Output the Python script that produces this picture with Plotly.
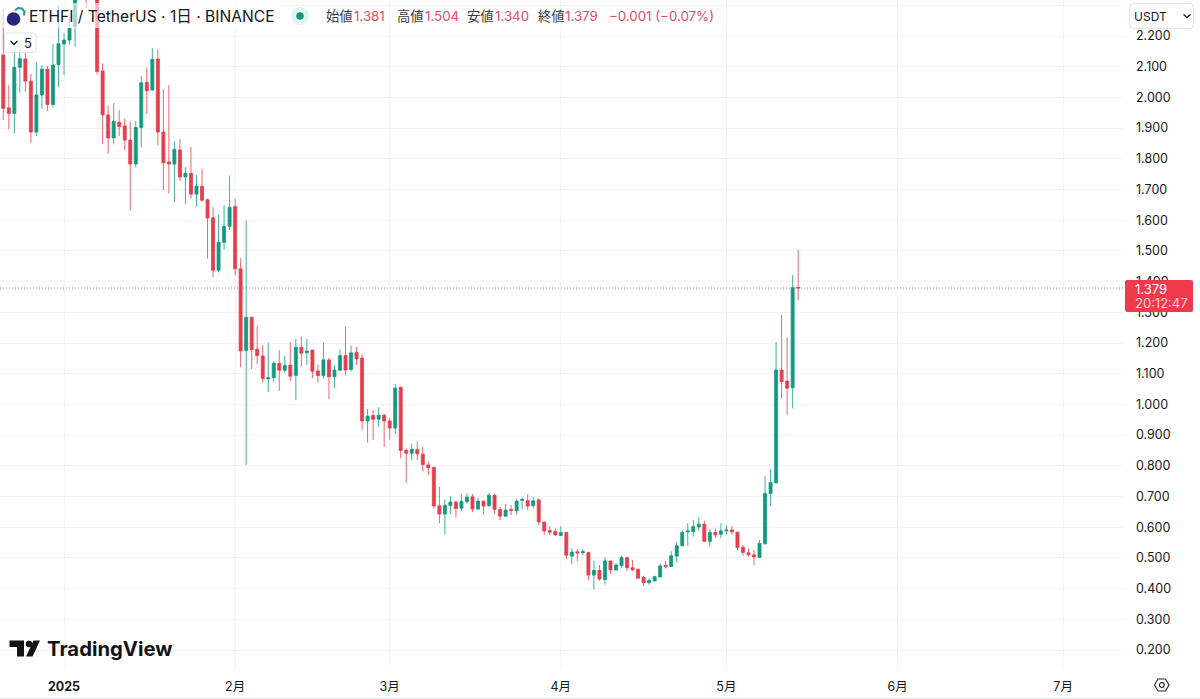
import pandas as pd
import plotly.graph_objects as go

FIRST_DATE = "2024-12-21"
opens = [2.138,1.966,1.948,2.098,2.125,2.053,1.887,2.008,2.092,1.977,
 2.107,2.174,2.187,2.230,2.350,2.500,2.400,2.450,2.086,1.943,
 1.868,1.919,1.907,1.861,1.783,1.902,2.049,2.024,2.125,1.887,
 1.790,1.783,1.829,1.741,1.753,1.685,1.711,1.667,1.608,1.437,
 1.528,1.580,1.645,1.442,1.176,1.284,1.180,1.158,1.083,1.087,
 1.133,1.111,1.128,1.094,1.186,1.168,1.177,1.109,1.094,1.145,
 1.090,1.111,1.159,1.114,1.170,1.151,0.946,0.964,0.952,0.965,
 0.946,0.923,1.056,0.851,0.841,0.853,0.838,0.803,0.795,0.670,
 0.643,0.671,0.682,0.662,0.684,0.699,0.659,0.685,0.670,0.704,
 0.658,0.636,0.658,0.654,0.687,0.687,0.670,0.689,0.617,0.589,
 0.586,0.573,0.583,0.506,0.520,0.517,0.518,0.444,0.459,0.430,
 0.490,0.461,0.475,0.501,0.468,0.463,0.436,0.419,0.425,0.438,
 0.476,0.472,0.506,0.540,0.585,0.585,0.601,0.610,0.554,0.583,
 0.577,0.588,0.591,0.584,0.535,0.517,0.510,0.502,0.546,0.710,
 0.745,1.112,1.076,1.054,1.381]
highs = [2.290,2.040,2.160,2.160,2.154,2.076,2.116,2.105,2.102,2.174,
 2.298,2.209,2.263,2.400,2.530,2.550,2.500,2.470,2.111,1.973,
 1.981,1.959,1.930,1.921,1.923,2.070,2.098,2.160,2.157,2.027,
 2.040,1.857,1.864,1.773,1.839,1.747,1.768,1.671,1.642,1.617,
 1.649,1.745,1.670,1.476,1.599,1.284,1.255,1.193,1.201,1.141,
 1.177,1.158,1.203,1.214,1.221,1.213,1.177,1.130,1.201,1.152,
 1.128,1.179,1.253,1.192,1.187,1.163,0.985,0.982,0.990,0.969,
 0.955,1.067,1.058,0.857,0.873,0.880,0.862,0.815,0.795,0.732,
 0.691,0.702,0.686,0.708,0.710,0.708,0.697,0.686,0.712,0.710,
 0.667,0.676,0.672,0.691,0.696,0.707,0.699,0.694,0.618,0.604,
 0.596,0.604,0.583,0.531,0.528,0.528,0.518,0.491,0.477,0.502,
 0.490,0.482,0.506,0.504,0.493,0.466,0.442,0.433,0.442,0.482,
 0.490,0.522,0.552,0.589,0.613,0.623,0.632,0.621,0.593,0.596,
 0.613,0.606,0.605,0.585,0.542,0.531,0.526,0.558,0.767,0.790,
 1.203,1.291,1.218,1.421,1.504]
lows = [1.926,1.896,1.883,2.015,2.019,1.852,1.874,1.964,1.956,1.968,
 2.033,2.073,2.171,2.165,2.330,2.290,2.330,2.074,1.848,1.816,
 1.847,1.874,1.829,1.631,1.772,1.837,1.946,2.023,1.844,1.698,
 1.687,1.659,1.728,1.653,1.670,1.644,1.660,1.475,1.414,1.430,
 1.505,1.568,1.421,1.121,0.803,1.115,1.132,1.071,1.040,1.074,
 1.044,1.103,1.076,1.014,1.123,1.128,1.085,1.071,1.085,1.017,
 1.053,1.110,1.094,1.107,1.128,0.917,0.876,0.884,0.927,0.861,
 0.885,0.903,0.824,0.745,0.819,0.819,0.781,0.770,0.661,0.613,
 0.576,0.642,0.632,0.654,0.676,0.649,0.658,0.641,0.667,0.643,
 0.623,0.634,0.640,0.640,0.658,0.656,0.662,0.607,0.575,0.575,
 0.571,0.571,0.496,0.480,0.490,0.509,0.428,0.398,0.425,0.413,
 0.448,0.458,0.468,0.458,0.458,0.432,0.408,0.413,0.424,0.437,
 0.465,0.471,0.487,0.537,0.539,0.569,0.589,0.553,0.537,0.567,
 0.564,0.577,0.575,0.525,0.507,0.504,0.476,0.501,0.544,0.669,
 0.741,1.019,0.966,0.987,1.340]
closes = [1.964,1.948,2.098,2.126,2.053,1.887,2.008,2.092,1.977,2.105,
 2.175,2.187,2.225,2.350,2.500,2.400,2.450,2.084,1.943,1.868,
 1.922,1.905,1.861,1.783,1.902,2.048,2.022,2.124,1.887,1.787,
 1.783,1.831,1.741,1.753,1.685,1.711,1.665,1.607,1.437,1.528,
 1.580,1.642,1.442,1.174,1.284,1.178,1.159,1.084,1.087,1.134,
 1.111,1.127,1.092,1.186,1.167,1.174,1.108,1.094,1.145,1.090,
 1.112,1.159,1.112,1.168,1.148,0.946,0.962,0.952,0.965,0.946,
 0.923,1.053,0.850,0.841,0.854,0.839,0.804,0.794,0.669,0.643,
 0.671,0.682,0.661,0.684,0.698,0.659,0.685,0.669,0.704,0.658,
 0.636,0.656,0.654,0.685,0.691,0.669,0.686,0.617,0.588,0.584,
 0.575,0.583,0.509,0.519,0.516,0.520,0.444,0.459,0.431,0.490,
 0.461,0.477,0.501,0.468,0.461,0.434,0.419,0.427,0.439,0.474,
 0.471,0.507,0.540,0.583,0.588,0.602,0.610,0.554,0.583,0.575,
 0.588,0.591,0.585,0.534,0.518,0.510,0.503,0.547,0.710,0.746,
 1.112,1.074,1.053,1.381,1.379]

dates = pd.date_range(FIRST_DATE, periods=len(opens), freq="D")

price_ticks = [0.2,0.3,0.4,0.5,0.6,0.7,0.8,0.9,1.0,1.1,1.2,1.3,1.4,1.5,1.6,1.7,1.8,1.9,2.0,2.1,2.2,2.3]
time_ticks = ["2025-01-01","2025-02-01","2025-03-01","2025-04-01","2025-05-01","2025-06-01","2025-07-01"]
time_labels = ["<b>2025</b>","2月","3月","4月","5月","6月","7月"]
legend_items = ["始値","1.381","高値","1.504","安値","1.340","終値","1.379"]
legend_change = "−0.001 (−0.07%)"
title_text = "ETHFI / TetherUS · 1日 · BINANCE"
last_close = closes[-1]

UP = "#129A80"
DOWN = "#E63E4E"
TAG = "#F0394A"
LEGEND_RED = "#E0505E"
INK = "#131722"
GRID = "#F3F4F6"
FONT = "Inter, 'Noto Sans CJK JP', sans-serif"
PW, PH = 1125.0, 670.0

def X(px):
    return px / PW
def Y(py):
    return 1 - py / PH

def rrect(x0, y0, x1, y1, r):
    return (f"M{X(x0+r)},{Y(y0)} L{X(x1-r)},{Y(y0)} Q{X(x1)},{Y(y0)} {X(x1)},{Y(y0+r)} "
            f"L{X(x1)},{Y(y1-r)} Q{X(x1)},{Y(y1)} {X(x1-r)},{Y(y1)} "
            f"L{X(x0+r)},{Y(y1)} Q{X(x0)},{Y(y1)} {X(x0)},{Y(y1-r)} "
            f"L{X(x0)},{Y(y0+r)} Q{X(x0)},{Y(y0)} {X(x0+r)},{Y(y0)} Z")

def poly(pts):
    return "M" + " L".join(f"{X(a)},{Y(b)}" for a, b in pts) + " Z"

def polyline(pts):
    return "M" + " L".join(f"{X(a)},{Y(b)}" for a, b in pts)

def paper_shape(path, fill=None, line=None, width=0):
    return dict(type="path", xref="paper", yref="paper", path=path, layer="above",
                fillcolor=fill or "rgba(0,0,0,0)",
                line=dict(color=line or "rgba(0,0,0,0)", width=width))

def circle(cx, cy, r, fill=None, line=None, width=0):
    return dict(type="circle", xref="paper", yref="paper", layer="above",
                x0=X(cx-r), x1=X(cx+r), y0=Y(cy+r), y1=Y(cy-r),
                fillcolor=fill or "rgba(0,0,0,0)",
                line=dict(color=line or "rgba(0,0,0,0)", width=width))

fig = go.Figure(go.Candlestick(
    x=dates, open=opens, high=highs, low=lows, close=closes,
    increasing=dict(line=dict(color=UP, width=0.8), fillcolor=UP),
    decreasing=dict(line=dict(color=DOWN, width=0.8), fillcolor=DOWN),
    whiskerwidth=0, showlegend=False, hoverinfo="skip",
))

shapes = [
    dict(type="line", xref="paper", yref="y", x0=0, x1=1, y0=last_close, y1=last_close,
         line=dict(color="rgba(230,62,78,0.95)", width=0.8, dash="1px,2px"), layer="above"),
    # translucent legend backing
    dict(type="rect", xref="paper", yref="paper", x0=0, x1=X(280), y0=Y(28), y1=Y(3),
         fillcolor="rgba(255,255,255,0.62)", line=dict(width=0), layer="above"),
    # interval button
    paper_shape(rrect(4.5, 33, 36, 52.5, 3), "rgba(255,255,255,0.8)", "#E0E3EB", 1),
    paper_shape(polyline([(10.5, 41), (14, 44.5), (17.5, 41)]), None, INK, 1.3),
    # USDT button
    paper_shape(rrect(1129.5, 3.5, 1193.5, 28.5, 4), "#FFFFFF", "#E0E3EB", 1),
    paper_shape(polyline([(1183.5, 14.5), (1187, 17.5), (1190.5, 14.5)]), None, INK, 1.3),
    # price tag
    paper_shape(rrect(1125, 280, 1193, 312, 2), TAG),
    # symbol icon
    circle(13.5, 19, 6.8, "#26267A"),
    paper_shape(polyline([(15, 10.5), (18, 8), (22, 8.5), (24.5, 11.5), (24, 15.5)]), None, "#1F9C93", 2),
    # status dot
    circle(300, 16, 9, "#E3F3F0"),
    circle(300, 16, 3.8, UP),
    # logo
    paper_shape(poly([(9.5, 640.5), (24, 640.5), (24, 656.5), (17, 656.5), (17, 647), (9.5, 647)]), "#131313"),
    circle(29, 644, 3.2, "#131313"),
    paper_shape(poly([(33.5, 640.5), (40, 640.5), (32.5, 656.5), (26, 656.5)]), "#131313"),
    # settings icon
    paper_shape(poly([(1154.5, 685), (1158, 679), (1165.5, 679), (1169, 685), (1165.5, 691), (1158, 691)]), None, "#2A2E39", 1.2),
    circle(1161.8, 685, 2.4, None, "#2A2E39", 1.2),
    # bottom edge
    dict(type="line", xref="paper", yref="paper", x0=0, x1=X(1200), y0=Y(698.5), y1=Y(698.5),
         line=dict(color="#E8E9EC", width=1), layer="above"),
]

def note(px, py, text, size=13, color=INK, anchor="left"):
    return dict(xref="paper", yref="paper", x=X(px), y=Y(py), text=text, showarrow=False,
                xanchor=anchor, yanchor="middle", font=dict(family=FONT, size=size, color=color),
                align="left", borderpad=0, borderwidth=0)

legend_x = [326, 354, 396.5, 424.5, 467, 495, 537.5, 565]
annotations = [note(29, 17, title_text, 15.6, INK)]
for i, (px, t) in enumerate(zip(legend_x, legend_items)):
    annotations.append(note(px, 16.5, t, 13.3, "#363A45" if i % 2 == 0 else LEGEND_RED))
annotations += [
    note(608.5, 16.5, legend_change, 13.3, LEGEND_RED),
    note(24, 43, "5", 13, INK),
    note(1133.5, 16, "USDT", 12, INK),
    note(1135, 289, f"{last_close:.3f}", 13, "#FFFFFF"),
    note(1135, 303, "20:12:47", 13, "rgba(255,255,255,0.8)"),
    note(47, 648.5, "<b>TradingView</b>", 20.3, "#131313"),
]

fig.update_layout(
    width=1200, height=699, margin=dict(l=0, r=75, t=0, b=29, pad=0),
    paper_bgcolor="#FFFFFF", plot_bgcolor="#FFFFFF",
    font=dict(family=FONT, color=INK, size=12),
    boxgap=0.22,
    shapes=shapes, annotations=annotations, showlegend=False, hovermode=False,
    xaxis=dict(type="date", range=["2024-12-20 09:44", "2025-07-12 05:00"],
               rangeslider=dict(visible=False), tickmode="array", tickvals=time_ticks,
               ticktext=time_labels, showgrid=True, gridcolor=GRID, gridwidth=1,
               zeroline=False, showline=False, ticks="", tickfont=dict(size=12.5, color=INK),
               ticklabelstandoff=7),
    yaxis=dict(side="right", range=[0.1349, 2.3173], tickmode="array", tickvals=price_ticks,
               tickformat=".3f", showgrid=True, gridcolor=GRID, gridwidth=1, zeroline=False,
               showline=False, ticks="", tickfont=dict(size=12.5, color=INK),
               ticklabelstandoff=10),
)

fig.write_html("out.html", config=dict(displayModeBar=False, responsive=False),
               post_script="document.body.style.margin='0';document.body.style.overflow='hidden';")
